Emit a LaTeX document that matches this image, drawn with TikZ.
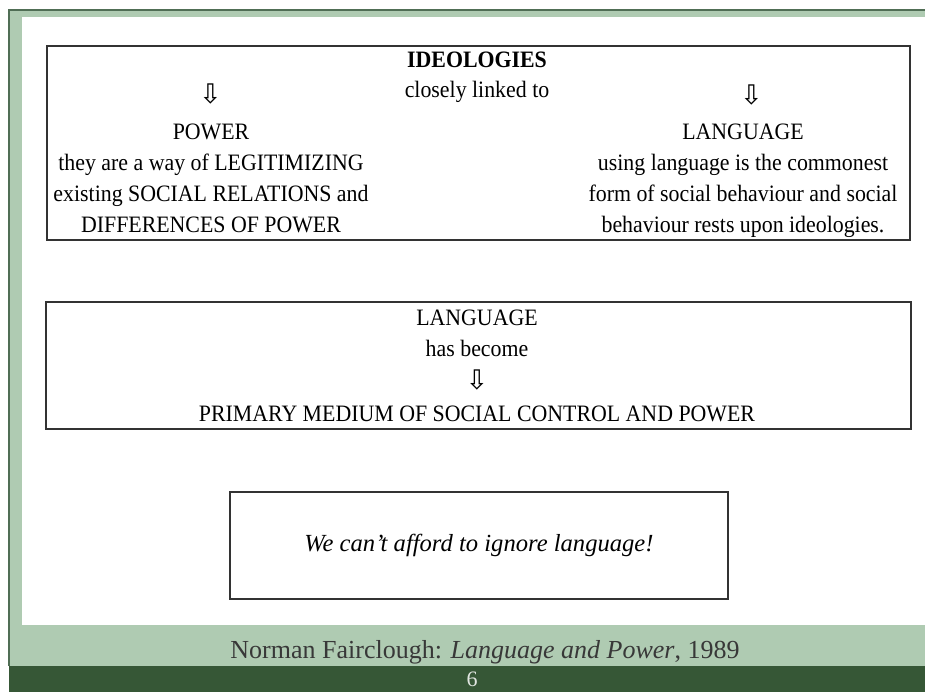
\documentclass[tikz,border=0pt]{standalone}
\usepackage{fontspec}
\setmainfont{Liberation Serif}
\newfontfamily\slidefont{Liberation Serif}[FakeStretch=0.93]
\newfontfamily\arrowfont{DejaVu Sans}
\definecolor{framegreen}{RGB}{175,203,178}
\definecolor{footgreen}{RGB}{54,87,54}
\definecolor{edgegreen}{RGB}{80,110,85}

\begin{document}
\begin{tikzpicture}[x=1pt, y=-1pt]
      \tikzset{
  textline/.style={
    anchor=base,
    inner sep=0pt,
    font=\slidefont\fontsize{23.5}{28}\selectfont
  },
  down arrow/.style={
    inner sep=0pt,
    font=\arrowfont\fontsize{27}{27}\selectfont
  },
  frame box/.style={
    draw=black!80,
    line width=1.5pt,
    inner sep=0pt
  }
}
\useasboundingbox (0,0) rectangle (925,692);

% slide background
\fill[framegreen] (9,10) rectangle (925,692);
\fill[white] (22,17) rectangle (925,625);
\fill[footgreen] (9,666) rectangle (925,692);
\draw[edgegreen, line width=1.2pt] (9,666) -- (9,10) -- (925,10);

\node [frame box, minimum width=863pt, minimum height=194pt] (ideo-box) at (478.5,143) {};
\node [frame box, minimum width=865pt, minimum height=127pt] (medium-box) at (478.5,365.5) {};
\node [frame box, minimum width=498pt, minimum height=107pt] (afford-box) at (479,545.5) {};

\node [textline, font=\slidefont\bfseries\fontsize{23.5}{28}\selectfont] (ideologies) at (477,68) {IDEOLOGIES};
\node [textline] (linked) at (477,98) {closely linked to};
\node [down arrow] (arrow-power) at (210.5,93.5) {⇩};
\node [down arrow] (arrow-language) at (751.5,95) {⇩};

\foreach \t [count=\i from 0] in {POWER, they are a way of LEGITIMIZING, existing SOCIAL RELATIONS and, DIFFERENCES OF POWER}
  \node [textline] (power-\i) at (211,140+30.7*\i) {\t};

\foreach \t [count=\i from 0] in {LANGUAGE, using language is the commonest, form of social behaviour and social, behaviour rests upon ideologies.}
  \node [textline] (language-\i) at (743,140+30.7*\i) {\t};

% second box
\node [textline] (language) at (477,325) {LANGUAGE};
\node [textline] (become) at (477,356) {has become};
\node [down arrow] (arrow-medium) at (477,380) {⇩};
\node [textline] (medium) at (477,421.7) {PRIMARY MEDIUM OF SOCIAL CONTROL AND POWER};

\node [textline, font=\itshape\fontsize{24.6}{28}\selectfont] (afford) at (479,551.5) {We can’t afford to ignore language!};

% footer
\node [anchor=base, inner sep=0pt, font=\fontsize{26}{28}\selectfont, text=black!78] (citation) at (485,658.5) {Norman Fairclough: \textit{Language and Power}, 1989};
\node [inner sep=0pt, font=\fontsize{22}{22}\selectfont, text=white!85!footgreen] (slide-number) at (472,679) {6};
      \end{tikzpicture}
\end{document}
